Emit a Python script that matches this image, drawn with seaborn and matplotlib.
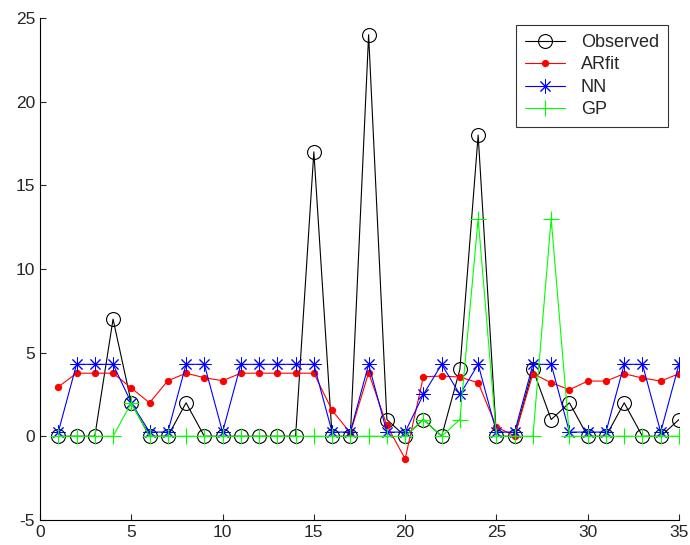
import matplotlib
matplotlib.use("Agg")
import matplotlib.pyplot as plt
import seaborn as sns

t = list(range(1, 36))

observed = [0, 0, 0, 7, 2, 0, 0, 2, 0, 0, 0, 0, 0, 0, 17, 0, 0, 24, 1, 0,
            1, 0, 4, 18, 0, 0, 4, 1, 2, 0, 0, 2, 0, 0, 1]

arfit = [2.95, 3.77, 3.77, 3.77, 2.88, 2.0, 3.32, 3.77, 3.5, 3.32,
         3.77, 3.77, 3.77, 3.77, 3.77, 1.55, 0.2, 3.8, 0.65, -1.35,
         3.56, 3.6, 3.54, 3.2, 0.56, 0.02, 3.74, 3.2, 2.78, 3.3,
         3.3, 3.74, 3.48, 3.3, 3.74]

nn = [0.25, 4.3, 4.3, 4.3, 2.0, 0.25, 0.25, 4.3, 4.3, 0.25,
      4.3, 4.3, 4.3, 4.3, 4.3, 0.25, 0.25, 4.3, 0.25, 0.25,
      2.5, 4.3, 2.5, 4.3, 0.25, 0.25, 4.3, 4.3, 0.25, 0.25,
      0.25, 4.3, 4.3, 0.25, 4.3]

gp = [0, 0, 0, 0, 2, 0, 0, 0, 0, 0, 0, 0, 0, 0, 0, 0, 0, 0, 0, 0,
      1, 0, 1, 13, 0, 0, 0, 13, 0, 0, 0, 0, 0, 0, 0]

sns.set_style("ticks")
plt.rcParams["font.family"] = ["Liberation Sans", "DejaVu Sans"]
plt.rcParams["axes.unicode_minus"] = False

fig = plt.figure(figsize=(6.9, 5.45), dpi=100)
ax = fig.add_axes([0.058, 0.046, 0.926, 0.921])

sns.lineplot(x=t, y=observed, ax=ax, color="black", lw=0.8,
             marker="o", markersize=10, markerfacecolor="none",
             markeredgecolor="black", markeredgewidth=0.8, label="Observed")
sns.lineplot(x=t, y=arfit, ax=ax, color="red", lw=0.8,
             marker="o", markersize=4.5, markerfacecolor="red",
             markeredgecolor="red", label="ARfit")
sns.lineplot(x=t, y=nn, ax=ax, color="blue", lw=0.8,
             marker=(8, 2, 0), markersize=10, markeredgecolor="blue",
             markeredgewidth=0.7, label="NN")
sns.lineplot(x=t, y=gp, ax=ax, color="#00ff00", lw=0.8,
             marker="+", markersize=12, markeredgecolor="#00ff00",
             markeredgewidth=0.8, label="GP")

ax.set_xlim(0, 35)
ax.set_ylim(-5, 25)
ax.set_xticks(range(0, 36, 5))
ax.set_yticks(range(-5, 26, 5))
ax.tick_params(direction="in", labelsize=12.5, length=4, width=0.8)
sns.despine(ax=ax)
for s in ["left", "bottom"]:
    ax.spines[s].set_linewidth(0.8)
    ax.spines[s].set_color("black")

leg = ax.legend(loc="upper right", bbox_to_anchor=(0.983, 0.986),
                borderaxespad=0, fontsize=13, frameon=True, fancybox=False,
                handlelength=2.2, handletextpad=0.9, borderpad=0.5,
                labelspacing=0.3)
leg.get_frame().set_edgecolor("black")
leg.get_frame().set_linewidth(0.8)

plt.savefig("out.png", dpi=100)
